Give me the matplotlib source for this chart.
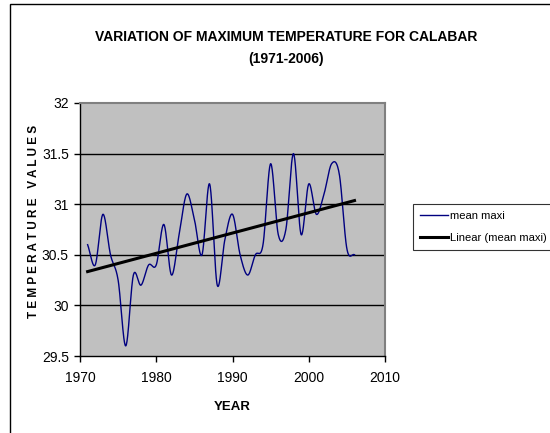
import numpy as np
import matplotlib
matplotlib.use("Agg")
import matplotlib.pyplot as plt
from matplotlib.patches import Rectangle

plt.rcParams['font.family'] = ['Liberation Sans', 'DejaVu Sans']

years = list(range(1971, 2007))
mean_maxi = [30.6, 30.4, 30.9, 30.5, 30.25, 29.6, 30.3, 30.2, 30.4, 30.4,
             30.8, 30.3, 30.7, 31.1, 30.85, 30.5, 31.2, 30.2, 30.65, 30.9,
             30.5, 30.3, 30.5, 30.6, 31.4, 30.7, 30.75, 31.5, 30.7, 31.2,
             30.9, 31.1, 31.4, 31.3, 30.56, 30.5]
x_ticks = [1970, 1980, 1990, 2000, 2010]
y_ticks = [29.5, 30, 30.5, 31, 31.5, 32]
y_tick_labels = ["29.5", "30", "30.5", "31", "31.5", "32"]


def catmull_rom(x, y, n=24):
    x = np.asarray(x, float)
    y = np.asarray(y, float)
    px = np.concatenate([[2 * x[0] - x[1]], x, [2 * x[-1] - x[-2]]])
    py = np.concatenate([[2 * y[0] - y[1]], y, [2 * y[-1] - y[-2]]])
    xs, ys = [], []
    t = np.linspace(0, 1, n, endpoint=False)
    for i in range(1, len(px) - 2):
        for P, out in ((px, xs), (py, ys)):
            p0, p1, p2, p3 = P[i - 1], P[i], P[i + 1], P[i + 2]
            out.extend(0.5 * ((2 * p1) + (-p0 + p2) * t
                              + (2 * p0 - 5 * p1 + 4 * p2 - p3) * t ** 2
                              + (-p0 + 3 * p1 - 3 * p2 + p3) * t ** 3))
    xs.append(x[-1]); ys.append(y[-1])
    return np.array(xs), np.array(ys)


fig = plt.figure(figsize=(5.5, 4.33), dpi=100)
fig.patches.append(Rectangle((10 / 550, -0.1), 1.2, 1 - 4 / 433 + 0.1,
                             transform=fig.transFigure, fill=False,
                             edgecolor='black', linewidth=1.0))

ax = fig.add_axes([80 / 550, 1 - 356 / 433, 305 / 550, 253 / 433])
ax.set_facecolor('#C0C0C0')

for v in [30, 30.5, 31, 31.5]:
    ax.axhline(v, color='black', linewidth=1.0, zorder=1)

sx, sy = catmull_rom(years, mean_maxi)
ax.plot(sx, sy, color='#000080', linewidth=1.0, label='mean maxi', zorder=3)

coef = np.polyfit(years, mean_maxi, 1)
tx = np.array([years[0], years[-1]])
ax.plot(tx, np.polyval(coef, tx), color='black', linewidth=2.2,
        label='Linear (mean maxi)', zorder=4)

ax.set_xlim(1970, 2010)
ax.set_ylim(29.5, 32)
ax.set_xticks(x_ticks)
ax.set_yticks(y_ticks)
ax.set_yticklabels(y_tick_labels)
ax.tick_params(axis='both', direction='out', length=4, width=1, color='black',
               labelsize=10)
ax.tick_params(axis='x', pad=7)
ax.tick_params(axis='y', pad=4)

for s in ['top', 'right']:
    ax.spines[s].set_color('#808080')
    ax.spines[s].set_linewidth(1.5)
for s in ['left', 'bottom']:
    ax.spines[s].set_color('black')
    ax.spines[s].set_linewidth(1.0)

ax.set_xlabel('YEAR', fontsize=9.5, fontweight='bold', labelpad=11)
fig.text(34 / 550, 1 - 221 / 433, 'T E M P E R A T U R E   V A L U E S',
         rotation=90, fontsize=8.5, fontweight='bold', ha='center', va='center')

fig.text(286 / 550, 1 - 37 / 433, 'VARIATION OF MAXIMUM TEMPERATURE FOR CALABAR',
         fontsize=10, fontweight='bold', ha='center', va='center')
fig.text(286 / 550, 1 - 59 / 433, '(1971-2006)',
         fontsize=10, fontweight='bold', ha='center', va='center')

leg = fig.legend(loc='upper left', bbox_to_anchor=(413 / 550, 1 - 204 / 433),
                 fontsize=8.1, frameon=True, fancybox=False, edgecolor='black',
                 handlelength=2.5, handletextpad=0.2, borderpad=0.6,
                 labelspacing=1.1, borderaxespad=0)
leg.get_frame().set_linewidth(0.8)

fig.savefig('out.png', dpi=100)
